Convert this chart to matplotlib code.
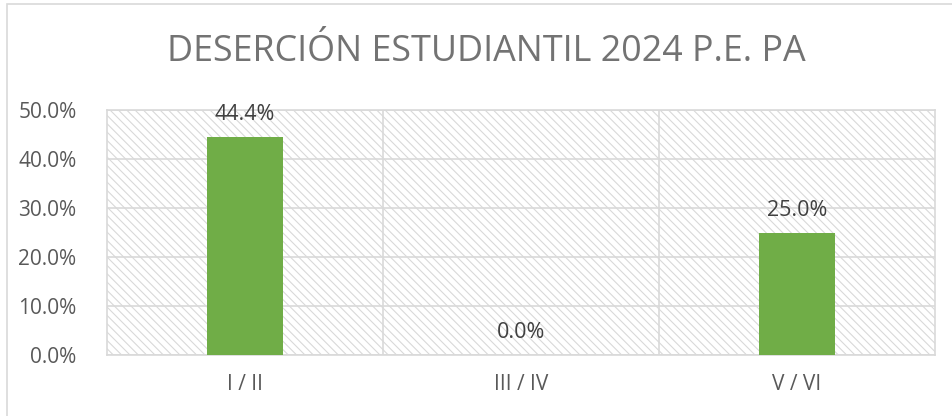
import matplotlib
matplotlib.use("Agg")
import matplotlib.pyplot as plt
from matplotlib.patches import Rectangle

# data
categories = ["I / II", "III / IV", "V / VI"]
values = [0.444, 0.0, 0.25]
yticks = [0.0, 0.1, 0.2, 0.3, 0.4, 0.5]
title = "DESERCIÓN ESTUDIANTIL 2024 P.E. PA"

GRID = "#d9d9d9"
TEXT = "#595959"
GREEN = "#70ad47"

plt.rcParams['font.family'] = ['Open Sans', 'DejaVu Sans']
plt.rcParams['hatch.linewidth'] = 0.8

fig = plt.figure(figsize=(9.53, 4.16), dpi=100)
ax = fig.add_axes([107/953, 1 - 355/416, (935 - 107)/953, (355 - 110)/416])

# chart border (only top and left visible in the reference)
fig.patches.append(Rectangle((7/953, -0.05), 1.2, 1 - 4/416 + 0.05, transform=fig.transFigure,
                             fill=False, edgecolor=GRID, linewidth=1.2))

# hatched plot area
ax.add_patch(Rectangle((0, 0), 1, 1, transform=ax.transAxes, facecolor="white",
                       edgecolor=GRID, hatch="\\\\\\\\", linewidth=0, zorder=0))

x = list(range(len(categories)))
bars = ax.bar(x, values, width=0.275, color=GREEN, zorder=3)

for xi, v in zip(x, values):
    ax.annotate(f"{v*100:.1f}%", (xi, v), xytext=(0, 12), textcoords="offset pixels",
                ha="center", va="bottom", fontsize=15.5, color="#404040", zorder=4)

ax.set_xlim(-0.5, len(categories) - 0.5)
ax.set_ylim(0, 0.5)
ax.set_yticks(yticks)
ax.set_yticklabels([f"{t*100:.1f}%" for t in yticks])
ax.set_xticks(x)
ax.set_xticklabels(categories)
ax.tick_params(length=0, labelsize=15, colors=TEXT)
ax.tick_params(axis="x", pad=14)
ax.tick_params(axis="y", pad=22)

for t in yticks:
    ax.axhline(t, color=GRID, linewidth=1.2, zorder=1)
for b in [0.5, 1.5]:
    ax.axvline(b, color=GRID, linewidth=1.2, zorder=1)
for s in ax.spines.values():
    s.set_color(GRID)
    s.set_linewidth(1.2)

fig.text(486/953, 1 - 52/416, title, ha="center", va="center", fontsize=25.8,
         color="#737373")

fig.savefig("out.png", dpi=100)
